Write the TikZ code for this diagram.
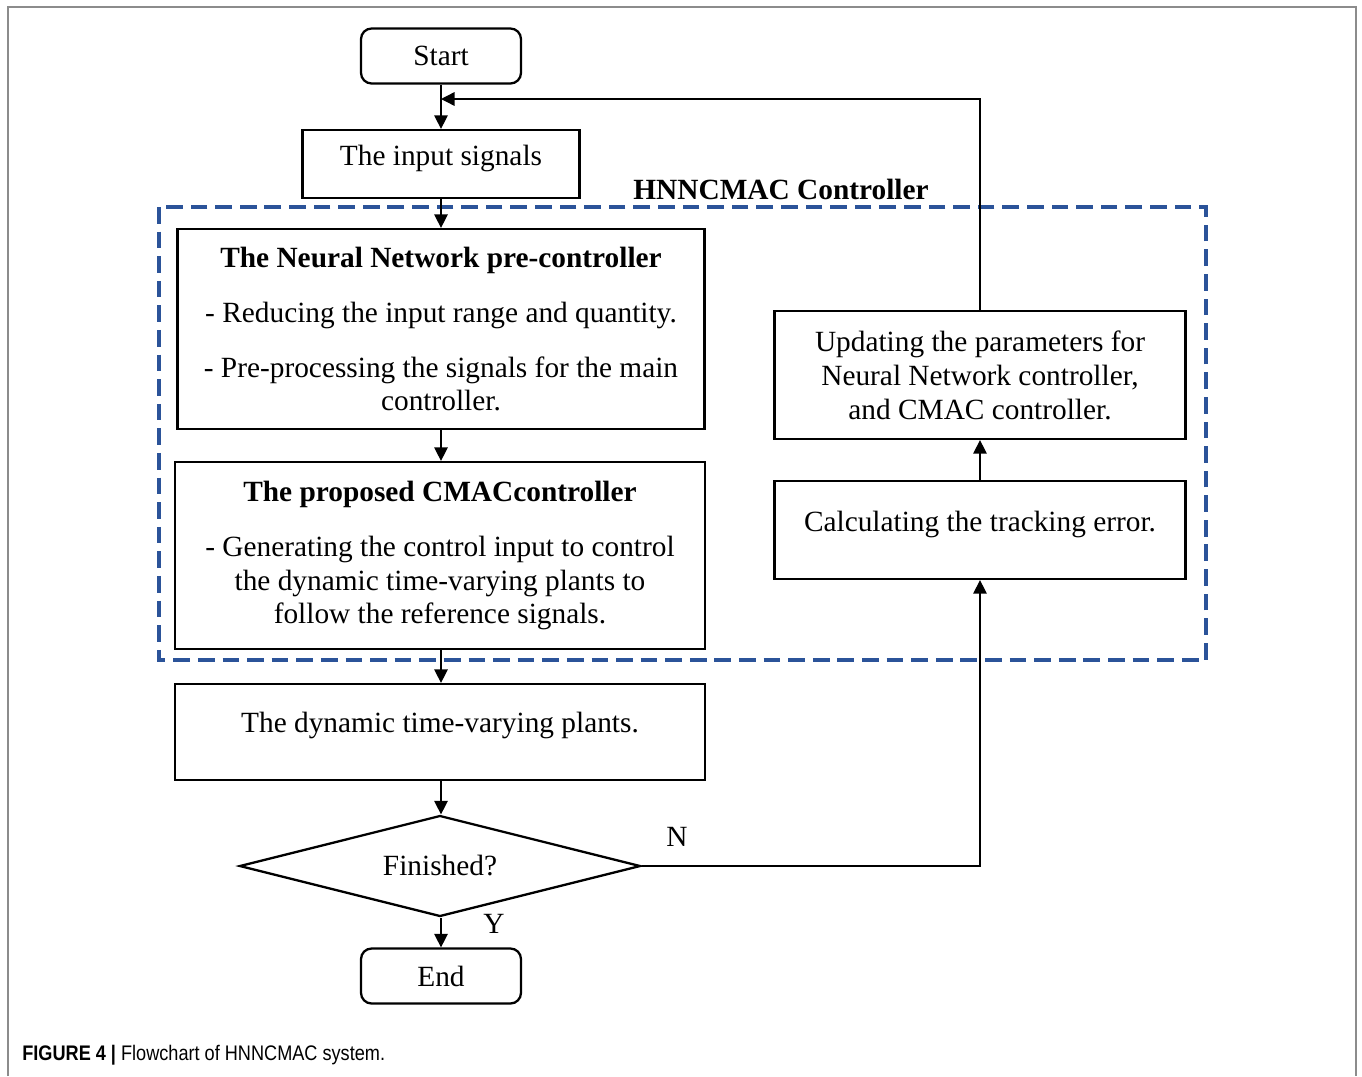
\documentclass[tikz,border=0pt]{standalone}
\usepackage{fontspec}
\setmainfont{Liberation Serif}
\setsansfont{Liberation Sans}
\usepackage{tikz}
\usetikzlibrary{shapes.geometric,arrows.meta}
\definecolor{ctrlblue}{RGB}{43,83,153}
\definecolor{framegray}{RGB}{140,140,140}

\begin{document}
\begin{tikzpicture}[x=0.02cm,y=-0.02cm,
    txt/.style={font=\fontsize{16.7}{19.3}\selectfont},
    box/.style={draw, line width=1.3pt, inner sep=0pt, align=center, txt},
    term/.style={box, rounded corners=6pt, minimum width=3.2cm, minimum height=1.1cm},
    flow/.style={line width=0.8pt, -{Triangle[length=0.27cm,width=0.27cm]}}]
  \useasboundingbox (0,0) rectangle (1362,1076);
  % outer frame of the figure
  \draw [framegray, line width=0.9pt] (8,1076) -- (8,7) -- (1356,7) -- (1356,1076);

  % controller region
  \draw [ctrlblue, line width=2.6pt, dash pattern=on 9.5pt off 4.5pt] (159,207) rectangle (1206,660);
  \node [txt, font=\fontsize{16.7}{19.3}\selectfont\bfseries] (ctrllabel) at (781,189) {HNNCMAC Controller};

  % left column
  \node [term] (start) at (441,56) {Start};
  \node [box, minimum width=5.54cm, minimum height=1.36cm] (input) at (441,164)
    {The input signals\\[-9pt]\mbox{}};
  \node [box, minimum width=10.54cm, minimum height=4cm] (nn) at (441,329)
    {\textbf{The Neural Network pre-controller}\\[12pt]
     - Reducing the input range and quantity.\\[12pt]
     - Pre-processing the signals for the main\\ controller.};
  \node [box, minimum width=10.6cm, minimum height=3.74cm] (cmac) at (440,555.5)
    {\textbf{The proposed CMACcontroller}\\[12pt]
     - Generating the control input to control\\
     the dynamic time-varying plants to\\
     follow the reference signals.};
  \node [box, minimum width=10.6cm, minimum height=1.92cm] (plants) at (440,732)
    {The dynamic time-varying plants.\\[-8pt]\mbox{}};
  \node [diamond, draw, line width=1.3pt, inner sep=0pt, aspect=4, minimum width=8.02cm, minimum height=2.02cm, txt] (finished) at (440,866) {Finished?};
  \node [term] (stop) at (441,976) {End};

  % right column
  \node [box, minimum width=8.22cm, minimum height=1.96cm] (calc) at (980,530)
    {Calculating the tracking error.\\[-9pt]\mbox{}};
  \node [box, minimum width=8.22cm, minimum height=2.56cm] (update) at (980,375)
    {Updating the parameters for\\ Neural Network controller,\\ and CMAC controller.};

  \node [txt] (ylabel) at (494,924) {Y};
  \node [txt] (nlabel) at (677,837) {N};

  \coordinate (back) at (441,99);

  % connectors
  \draw [flow] (start.south) -- (input.north);
  \draw [flow] (input.south) -- (nn.north -| input.south);
  \draw [flow] (nn.south -| input.south) -- (cmac.north -| input.south);
  \draw [flow] (cmac.south -| input.south) -- (plants.north -| input.south);
  \draw [flow] (plants.south -| input.south) -- (finished.north -| input.south);
  \draw [flow] (finished.south -| input.south) -- (stop.north);
  \draw [flow] (finished.east) -| (calc.south);
  \draw [flow] (calc.north) -- (update.south);
  \draw [flow] (update.north) |- (back);

  % caption
  \node [anchor=west, inner sep=0pt, font=\sffamily\fontsize{12}{14}\selectfont] (caption) at (22,1055)
    {\scalebox{0.86}[1]{\textbf{FIGURE 4 |} Flowchart of HNNCMAC system.}};
\end{tikzpicture}
\end{document}
